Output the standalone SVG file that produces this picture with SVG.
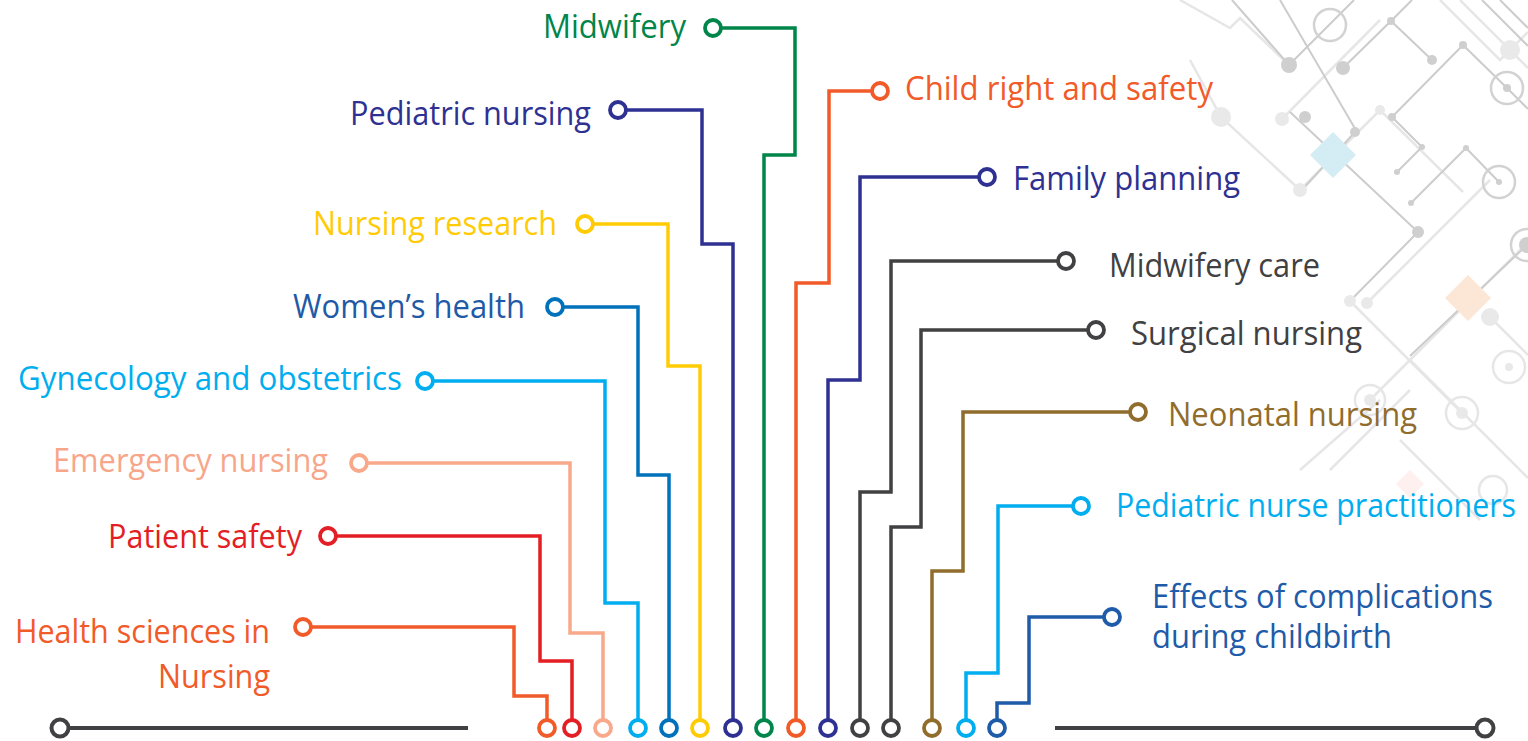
<svg xmlns="http://www.w3.org/2000/svg" width="1528" height="741" viewBox="0 0 1528 741">
<style>
.bgd{stroke:#CCCCCC;stroke-width:2;fill:none}
.bgl{stroke:#E6E6E6;stroke-width:2.5;fill:none}
.dd{fill:#CFCFCF}
.dl{fill:#E9E9E9}
.ring{fill:none;stroke:#D2D2D2;stroke-width:2.5}
.ringl{fill:none;stroke:#E6E6E6;stroke-width:2.5}
.c{fill:none;stroke-width:3.5;stroke-linejoin:miter;stroke-linecap:butt}
.n{fill:#FFFFFF;stroke-width:3.8}
text{font-family:"Open Sans","Noto Sans","Liberation Sans",sans-serif;font-size:32px}
.e{text-anchor:end}
</style>
<rect width="1528" height="741" fill="#FFFFFF"/>
<g id="background">
<path class="bgl" d="M1180 0 L1230 28 L1240 18 L1289 65 M1190 60 L1221 117 L1300 190 M1282 119 L1380 20 M1300 190 L1380 110 L1463 192 M1350 301 L1462 413 M1367 303 L1490 180 M1490 317 L1528 355 M1370 400 L1528 242 M1410 360 L1528 478 M1300 470 L1380 400 M1400 440 L1480 520 M1460 0 L1528 68 M1440 0 L1500 60 L1528 32 M1330 470 L1410 390"/>
<path class="bgd" d="M1232 0 L1289 65 L1354 0 M1343 68 L1391 21 L1432 60 M1391 21 L1412 0 M1463 45 L1392 117 L1422 147 L1397 172 M1463 45 L1507 88 L1528 109 M1280 0 L1357 132 M1290 112 L1418 232 L1350 301 M1355 132 L1302 190 M1466 148 L1411 203 M1466 148 L1499 182 M1527 245 L1410 356 M1482 0 L1528 46 M1500 0 L1528 28"/>
<polygon points="1333,132 1356,155 1333,178 1310,155" fill="#D4ECF4"/>
<polygon points="1468,275 1491,298 1468,321 1445,298" fill="#FCE6D6"/>
<polygon points="1410,470 1424,484 1410,498 1396,484" fill="#FDF0EE"/>
<circle class="ring" cx="1330" cy="25" r="16"/>
<circle class="ring" cx="1507" cy="88" r="16"/>
<circle class="ring" cx="1499" cy="182" r="16"/>
<circle class="ring" cx="1527" cy="245" r="16"/>
<circle class="ringl" cx="1509" cy="367" r="16"/>
<circle class="ringl" cx="1462" cy="413" r="16"/>
<circle class="ringl" cx="1370" cy="400" r="15"/>
<circle class="ringl" cx="1493" cy="490" r="14"/>
<circle class="dd" cx="1289" cy="65" r="8"/>
<circle class="dd" cx="1343" cy="68" r="7"/>
<circle class="dd" cx="1391" cy="21" r="4"/>
<circle class="dd" cx="1432" cy="60" r="5"/>
<circle class="dd" cx="1463" cy="45" r="4"/>
<circle class="dd" cx="1305" cy="117" r="6"/>
<circle class="dd" cx="1355" cy="132" r="5"/>
<circle class="dd" cx="1392" cy="117" r="4"/>
<circle class="dd" cx="1422" cy="147" r="3"/>
<circle class="dd" cx="1397" cy="172" r="3"/>
<circle class="dd" cx="1466" cy="148" r="3"/>
<circle class="dd" cx="1411" cy="203" r="3"/>
<circle class="dd" cx="1418" cy="232" r="6"/>
<circle class="dd" cx="1507" cy="88" r="4"/>
<circle class="dd" cx="1499" cy="182" r="3"/>
<circle class="dd" cx="1527" cy="245" r="8"/>
<circle class="dl" cx="1510" cy="50" r="10"/>
<circle class="dl" cx="1221" cy="117" r="10"/>
<circle class="dl" cx="1282" cy="119" r="7"/>
<circle class="dl" cx="1380" cy="110" r="5"/>
<circle class="dl" cx="1300" cy="190" r="7"/>
<circle class="dl" cx="1350" cy="301" r="6"/>
<circle class="dl" cx="1367" cy="303" r="6"/>
<circle class="dl" cx="1490" cy="317" r="9"/>
<circle class="dl" cx="1509" cy="367" r="4"/>
<circle class="dl" cx="1462" cy="413" r="6"/>
<circle class="dl" cx="1370" cy="400" r="6"/>
</g>
<g id="axis">
<path d="M60 728 H468 M1055 728 H1485" stroke="#414042" stroke-width="4" fill="none"/>
<circle cx="60" cy="728" r="8.5" fill="#FFFFFF" stroke="#414042" stroke-width="4"/>
<circle cx="1485" cy="728" r="8.5" fill="#FFFFFF" stroke="#414042" stroke-width="4"/>
</g>
<g id="connectors">
<path class="c" stroke="#F15A29" d="M303 627 H514 V696 H547 V728"/>
<path class="c" stroke="#E31E24" d="M328 536 H540 V661 H572 V728"/>
<path class="c" stroke="#F9A98B" d="M359 463 H570 V633 H603 V728"/>
<path class="c" stroke="#00AEEF" d="M425 381 H605 V603 H638 V728"/>
<path class="c" stroke="#0072BC" d="M555 307 H638 V475 H669 V728"/>
<path class="c" stroke="#FFCB05" d="M585 224 H668 V366 H700 V728"/>
<path class="c" stroke="#2E3192" d="M618 110 H702 V244 H733 V728"/>
<path class="c" stroke="#00854A" d="M713 28 H795 V155 H764 V728"/>
<path class="c" stroke="#F15A29" d="M880 91 H829 V283 H796 V728"/>
<path class="c" stroke="#2E3192" d="M987 177 H860 V380 H828 V728"/>
<path class="c" stroke="#414042" d="M1066 261 H891 V492 H860 V728"/>
<path class="c" stroke="#414042" d="M1096 330 H921 V527 H891 V728"/>
<path class="c" stroke="#906D2C" d="M1138 412 H963 V571 H932 V728"/>
<path class="c" stroke="#00AEEF" d="M1081 506 H998 V673 H966 V728"/>
<path class="c" stroke="#1E5BA8" d="M1112 617 H1029 V703 H997 V728"/>
</g>
<g id="health-sciences">
<circle class="n" stroke="#F15A29" cx="303" cy="627" r="8"/>
<circle class="n" stroke="#F15A29" cx="547" cy="728" r="8"/>
<text class="e" x="270" y="643" fill="#F15A29" textLength="255" lengthAdjust="spacingAndGlyphs">Health sciences in</text>
<text class="e" x="270" y="688" fill="#F15A29" textLength="112" lengthAdjust="spacingAndGlyphs">Nursing</text>
</g>
<g id="patient-safety">
<circle class="n" stroke="#E31E24" cx="328" cy="536" r="8"/>
<circle class="n" stroke="#E31E24" cx="572" cy="728" r="8"/>
<text class="e" x="302" y="548" fill="#E31E24" textLength="194" lengthAdjust="spacingAndGlyphs">Patient safety</text>
</g>
<g id="emergency-nursing">
<circle class="n" stroke="#F9A98B" cx="359" cy="463" r="8"/>
<circle class="n" stroke="#F9A98B" cx="603" cy="728" r="8"/>
<text class="e" x="328" y="472" fill="#F7A68A" textLength="275" lengthAdjust="spacingAndGlyphs">Emergency nursing</text>
</g>
<g id="gynecology">
<circle class="n" stroke="#00AEEF" cx="425" cy="381" r="8"/>
<circle class="n" stroke="#00AEEF" cx="638" cy="728" r="8"/>
<text class="e" x="402" y="390" fill="#00AEEF" textLength="384" lengthAdjust="spacingAndGlyphs">Gynecology and obstetrics</text>
</g>
<g id="womens-health">
<circle class="n" stroke="#0072BC" cx="555" cy="307" r="8"/>
<circle class="n" stroke="#0072BC" cx="669" cy="728" r="8"/>
<text class="e" x="525" y="318" fill="#1F5AA6" textLength="232" lengthAdjust="spacingAndGlyphs">Women’s health</text>
</g>
<g id="nursing-research">
<circle class="n" stroke="#FFCB05" cx="585" cy="224" r="8"/>
<circle class="n" stroke="#FFCB05" cx="700" cy="728" r="8"/>
<text class="e" x="557" y="235" fill="#FFCB05" textLength="244" lengthAdjust="spacingAndGlyphs">Nursing research</text>
</g>
<g id="pediatric-nursing">
<circle class="n" stroke="#2E3192" cx="618" cy="110" r="8"/>
<circle class="n" stroke="#2E3192" cx="733" cy="728" r="8"/>
<text class="e" x="591" y="125" fill="#2E3192" textLength="241" lengthAdjust="spacingAndGlyphs">Pediatric nursing</text>
</g>
<g id="midwifery">
<circle class="n" stroke="#00854A" cx="713" cy="28" r="8"/>
<circle class="n" stroke="#00854A" cx="764" cy="728" r="8"/>
<text class="e" x="686" y="38" fill="#00854A" textLength="143" lengthAdjust="spacingAndGlyphs">Midwifery</text>
</g>
<g id="child-right">
<circle class="n" stroke="#F15A29" cx="880" cy="91" r="8"/>
<circle class="n" stroke="#F15A29" cx="796" cy="728" r="8"/>
<text x="905" y="100" fill="#F15A29" textLength="308" lengthAdjust="spacingAndGlyphs">Child right and safety</text>
</g>
<g id="family-planning">
<circle class="n" stroke="#2E3192" cx="987" cy="177" r="8"/>
<circle class="n" stroke="#2E3192" cx="828" cy="728" r="8"/>
<text x="1013" y="190" fill="#2E3192" textLength="227" lengthAdjust="spacingAndGlyphs">Family planning</text>
</g>
<g id="midwifery-care">
<circle class="n" stroke="#414042" cx="1066" cy="261" r="8"/>
<circle class="n" stroke="#414042" cx="860" cy="728" r="8"/>
<text x="1109" y="277" fill="#414042" textLength="211" lengthAdjust="spacingAndGlyphs">Midwifery care</text>
</g>
<g id="surgical-nursing">
<circle class="n" stroke="#414042" cx="1096" cy="330" r="8"/>
<circle class="n" stroke="#414042" cx="891" cy="728" r="8"/>
<text x="1131" y="345" fill="#414042" textLength="231" lengthAdjust="spacingAndGlyphs">Surgical nursing</text>
</g>
<g id="neonatal-nursing">
<circle class="n" stroke="#906D2C" cx="1138" cy="412" r="8"/>
<circle class="n" stroke="#906D2C" cx="932" cy="728" r="8"/>
<text x="1168" y="426" fill="#906D2C" textLength="249" lengthAdjust="spacingAndGlyphs">Neonatal nursing</text>
</g>
<g id="pediatric-nurse-practitioners">
<circle class="n" stroke="#00AEEF" cx="1081" cy="506" r="8"/>
<circle class="n" stroke="#00AEEF" cx="966" cy="728" r="8"/>
<text x="1116" y="517" fill="#00AEEF" font-size="29.5" textLength="400" lengthAdjust="spacingAndGlyphs">Pediatric nurse practitioners</text>
</g>
<g id="effects-of-complications">
<circle class="n" stroke="#1E5BA8" cx="1112" cy="617" r="8"/>
<circle class="n" stroke="#1E5BA8" cx="997" cy="728" r="8"/>
<text x="1152" y="608" fill="#1E5BA8" textLength="341" lengthAdjust="spacingAndGlyphs">Effects of complications</text>
<text x="1152" y="648" fill="#1E5BA8" textLength="240" lengthAdjust="spacingAndGlyphs">during childbirth</text>
</g>
</svg>
